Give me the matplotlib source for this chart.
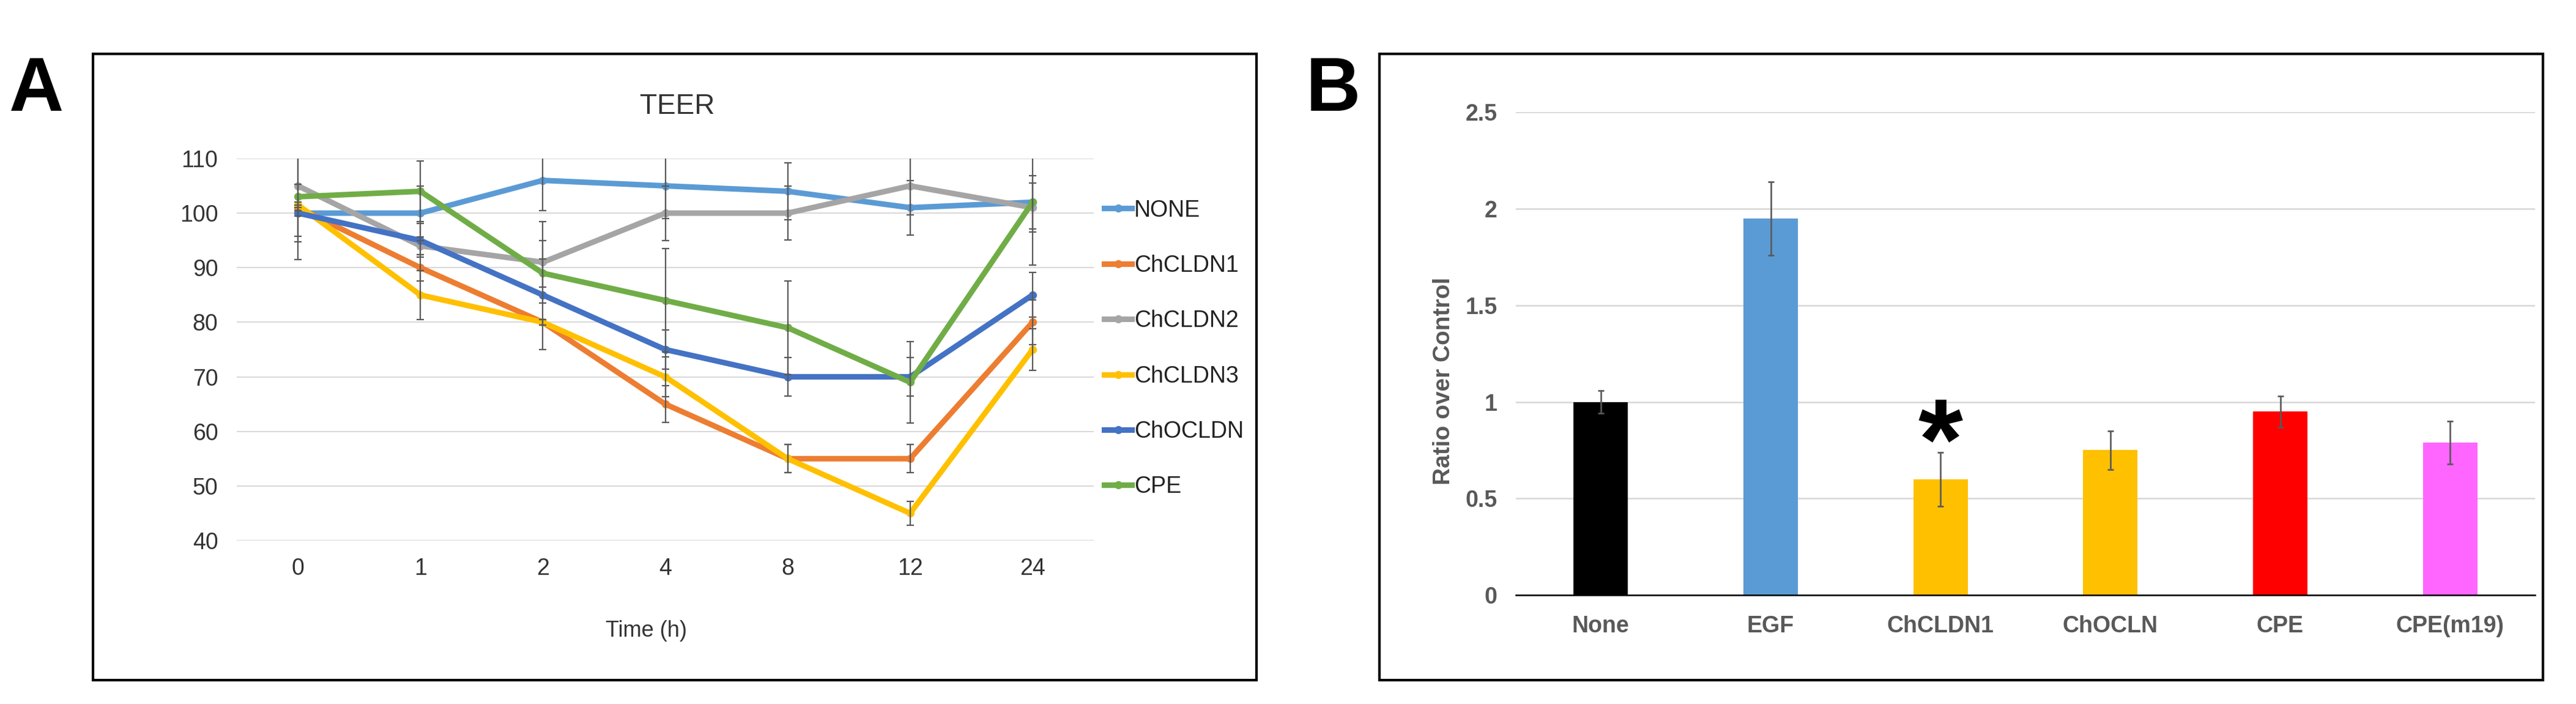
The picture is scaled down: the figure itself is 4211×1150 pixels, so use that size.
import matplotlib
matplotlib.use("Agg")
import matplotlib.pyplot as plt
from matplotlib import font_manager
from matplotlib.patches import Rectangle

# ---------------- data ----------------
time_labels = ['0', '1', '2', '4', '8', '12', '24']
series_names = ['NONE', 'ChCLDN1', 'ChCLDN2', 'ChCLDN3', 'ChOCLDN', 'CPE']
none_vals = [100, 100, 106, 105, 104, 101, 102]
none_err = [5.3, 5.0, 5.5, 6.0, 5.2, 5.0, 4.9]
cldn1_vals = [101, 90, 80, 65, 55, 55, 80]
cldn1_err = [0.5, 2.4, 0.5, 3.4, 2.6, 2.6, 4.1]
cldn2_vals = [105, 94, 91, 100, 100, 105, 101]
cldn2_err = [13.5, 1.6, 7.5, 5.0, 4.9, 5.3, 4.5]
cldn3_vals = [101.5, 85, 80, 70, 55, 45, 75]
cldn3_err = [0.5, 4.5, 0.5, 3.6, 2.6, 2.2, 3.8]
ocldn_vals = [100, 95, 85, 75, 70, 70, 85]
ocldn_err = [0.5, 3.1, 10.0, 3.6, 3.5, 3.5, 4.1]
cpe_vals = [103, 104, 89, 84, 79, 69, 102]
cpe_err = [7.3, 5.5, 2.6, 9.5, 8.6, 7.5, 11.5]
line_colors = ['#5B9BD5', '#ED7D31', '#A5A5A5', '#FFC000', '#4472C4', '#70AD47']

treatments = ['None', 'EGF', 'ChCLDN1', 'ChOCLN', 'CPE', 'CPE(m19)']
ratio = [1.0, 1.95, 0.60, 0.75, 0.95, 0.79]
ratio_err = [0.06, 0.19, 0.14, 0.10, 0.08, 0.11]
bar_colors = ['#000000', '#5B9BD5', '#FFC000', '#FFC000', '#FF0000', '#FF66FF']

# ---------------- fonts ----------------
names = {f.name for f in font_manager.fontManager.ttflist}
if 'Liberation Sans Narrow' in names:
    fA = ['Liberation Sans Narrow', 'Liberation Sans', 'DejaVu Sans']
    sA = 29
    sT = 35
else:
    fA = ['Liberation Sans', 'DejaVu Sans']
    sA = 27
    sT = 33
fB = ['Liberation Sans', 'DejaVu Sans']

W, H = 4211, 1150
fig = plt.figure(figsize=(W / 100, H / 100), dpi=100)

def fx(px):
    return px / W

def fy(py):
    return 1 - py / H

# panel frames
for x0, x1 in [(152, 2054), (2255, 4157)]:
    fig.patches.append(Rectangle((fx(x0), fy(1111)), fx(x1) - fx(x0), fy(88) - fy(1111),
                                 transform=fig.transFigure, fill=False, ec='black', lw=3))

fig.text(fx(60), fy(181), 'A', ha='center', va='baseline', fontsize=89,
         fontweight='bold', family=fB)
fig.text(fx(2179), fy(181), 'B', ha='center', va='baseline', fontsize=89,
         fontweight='bold', family=fB)

# ---------------- panel A ----------------
axA = fig.add_axes([fx(387), fy(883), fx(1788) - fx(387), fy(259) - fy(883)])
xs = list(range(len(time_labels)))
vals = [none_vals, cldn1_vals, cldn2_vals, cldn3_vals, ocldn_vals, cpe_vals]
errs = [none_err, cldn1_err, cldn2_err, cldn3_err, ocldn_err, cpe_err]
for name, v, c in zip(series_names, vals, line_colors):
    axA.plot(xs, v, color=c, lw=6.5, marker='o', ms=8.5, mec=c, mfc=c, label=name,
             solid_joinstyle='round', zorder=3)
for v, e in zip(vals, errs):
    axA.errorbar(xs, v, yerr=e, fmt='none', ecolor='#595959', elinewidth=1.6,
                 capsize=4, capthick=1.6, zorder=4)
axA.set_xlim(-0.5, 6.5)
axA.set_ylim(40, 110)
axA.set_yticks(range(40, 111, 10))
axA.set_xticks(xs)
axA.set_xticklabels(time_labels)
axA.grid(axis='y', color='#D9D9D9', lw=1.5)
axA.set_axisbelow(True)
for s in axA.spines.values():
    s.set_visible(False)
axA.tick_params(length=0, labelsize=sA, labelcolor='#333333')
axA.tick_params(axis='y', pad=22)
axA.tick_params(axis='x', pad=20)
for lab in axA.get_xticklabels() + axA.get_yticklabels():
    lab.set_family(fA)
fig.text(fx(1107), fy(174), 'TEER', ha='center', va='center', fontsize=sT,
         color='#333333', family=fA)
fig.text(fx(1056), fy(1031), 'Time (h)', ha='center', va='center', fontsize=sA - 1,
         color='#333333', family=fA)
leg = axA.legend(loc='center left', bbox_to_anchor=(fx(1805), fy(569.5)),
                 bbox_transform=fig.transFigure, frameon=False,
                 prop={'family': fA, 'size': sA}, handlelength=1.2,
                 handletextpad=0.1, labelspacing=1.45, borderpad=0, borderaxespad=0)
for t in leg.get_texts():
    t.set_color('#222222')

# ---------------- panel B ----------------
axB = fig.add_axes([fx(2478), fy(972), fx(4144) - fx(2478), fy(183.4) - fy(972)])
xb = list(range(len(treatments)))
axB.bar(xb, ratio, width=0.32, color=bar_colors, zorder=3)
axB.errorbar(xb, ratio, yerr=ratio_err, fmt='none', ecolor='#595959', elinewidth=1.9,
             capsize=3.8, capthick=1.9, zorder=4)
axB.set_xlim(-0.5, 5.5)
axB.set_ylim(0, 2.5)
axB.set_yticks([0, 0.5, 1, 1.5, 2, 2.5])
axB.set_yticklabels(['0', '0.5', '1', '1.5', '2', '2.5'])
axB.set_xticks(xb)
axB.set_xticklabels(treatments)
axB.grid(axis='y', color='#D9D9D9', lw=1.9)
axB.set_axisbelow(True)
for k, s in axB.spines.items():
    s.set_visible(k == 'bottom')
axB.spines['bottom'].set_color('black')
axB.spines['bottom'].set_linewidth(1.8)
axB.spines['bottom'].set_zorder(5)
axB.tick_params(length=0, labelsize=27, labelcolor='#595959')
axB.tick_params(axis='y', pad=22)
axB.tick_params(axis='x', pad=24)
for lab in axB.get_xticklabels() + axB.get_yticklabels():
    lab.set_family(fB)
    lab.set_fontweight('bold')
fig.text(fx(2360), fy(622), 'Ratio over Control', rotation=90, ha='center', va='center',
         fontsize=28, fontweight='bold', color='#595959', family=fB)
axB.annotate('*', xy=(2, 0.89), xytext=(0, -65), textcoords='offset points',
             ha='center', va='baseline', fontsize=135, fontweight='bold',
             color='black', family=fB)

fig.savefig('out.png', dpi=100)
